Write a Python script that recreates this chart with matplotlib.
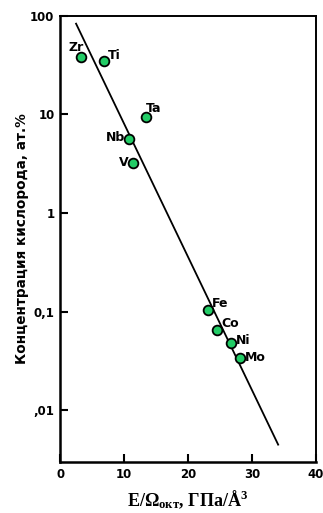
import numpy as np
from matplotlib import pyplot as plt

plt.rcParams['mathtext.fontset'] = 'custom'
plt.rcParams['mathtext.rm'] = 'Liberation Serif:bold'
plt.rcParams['mathtext.it'] = 'Liberation Serif:bold'
plt.rcParams['mathtext.bf'] = 'Liberation Serif:bold'

# metals: E/Omega (GPa/A^3) vs oxygen solubility (at.%)
metals = ['Zr', 'Ti', 'Ta', 'Nb', 'V', 'Fe', 'Co', 'Ni', 'Mo']
e_omega = [3.3, 6.8, 13.4, 10.8, 11.4, 23.2, 24.6, 26.7, 28.1]
conc = [38, 35, 9.4, 5.6, 3.2, 0.104, 0.066, 0.048, 0.034]

# fitted line end points
line_x = [2.5, 34.1]
line_y = [83, 0.0045]

# label offsets (points) and alignment per metal
offsets = {
    'Zr': (1.5, 7, 'right'), 'Ti': (3, 3.5, 'left'), 'Ta': (0, 6.5, 'left'),
    'Nb': (-3, 1.5, 'right'), 'V': (-3, 0.5, 'right'), 'Fe': (2.5, 5, 'left'),
    'Co': (3, 4, 'left'), 'Ni': (3.5, 2, 'left'), 'Mo': (4, 0.5, 'left'),
}

fig = plt.figure(dpi=100, figsize=(3.23, 5.13))
ax = fig.add_axes([0.186, 0.0994, 0.792, 0.870])

ax.plot(line_x, line_y, c='black', lw=1.3, zorder=2)
ax.plot(e_omega, conc, 'o', ms=7, mfc='#22cc66', mec='black', mew=1.3, zorder=3)

for name, x, y in zip(metals, e_omega, conc):
    dx, dy, ha = offsets[name]
    ax.annotate(name, (x, y), xytext=(dx, dy), textcoords='offset points',
                ha=ha, va='center', fontsize=9, fontweight='bold')

ax.set_yscale('log')
ax.set_xlim(0, 40)
ax.set_ylim(0.003, 100)
ax.set_xticks([0, 10, 20, 30, 40])
ax.set_xticklabels(['0', '10', '20', '30', '40'], fontweight='bold', fontsize=8.5)
ax.set_yticks([0.01, 0.1, 1, 10, 100])
ax.set_yticklabels([',01', '0,1', '1', '10', '100'], fontweight='bold', fontsize=8.5)
ax.minorticks_off()
ax.tick_params(direction='in', length=6, width=1.5, pad=4)

for side in ['left', 'bottom']:
    ax.spines[side].set_linewidth(1.8)
for side in ['top', 'right']:
    ax.spines[side].set_linewidth(1.4)

ax.set_ylabel('Концентрация кислорода, ат.%', fontsize=9.8, fontweight='bold',
              labelpad=1)
ax.set_xlabel(r'E/$\Omega_{окт}$, ГПа/Å$^3$', fontsize=13, fontweight='bold',
              family='Liberation Serif', labelpad=6)

plt.savefig('out.png', dpi=100)
